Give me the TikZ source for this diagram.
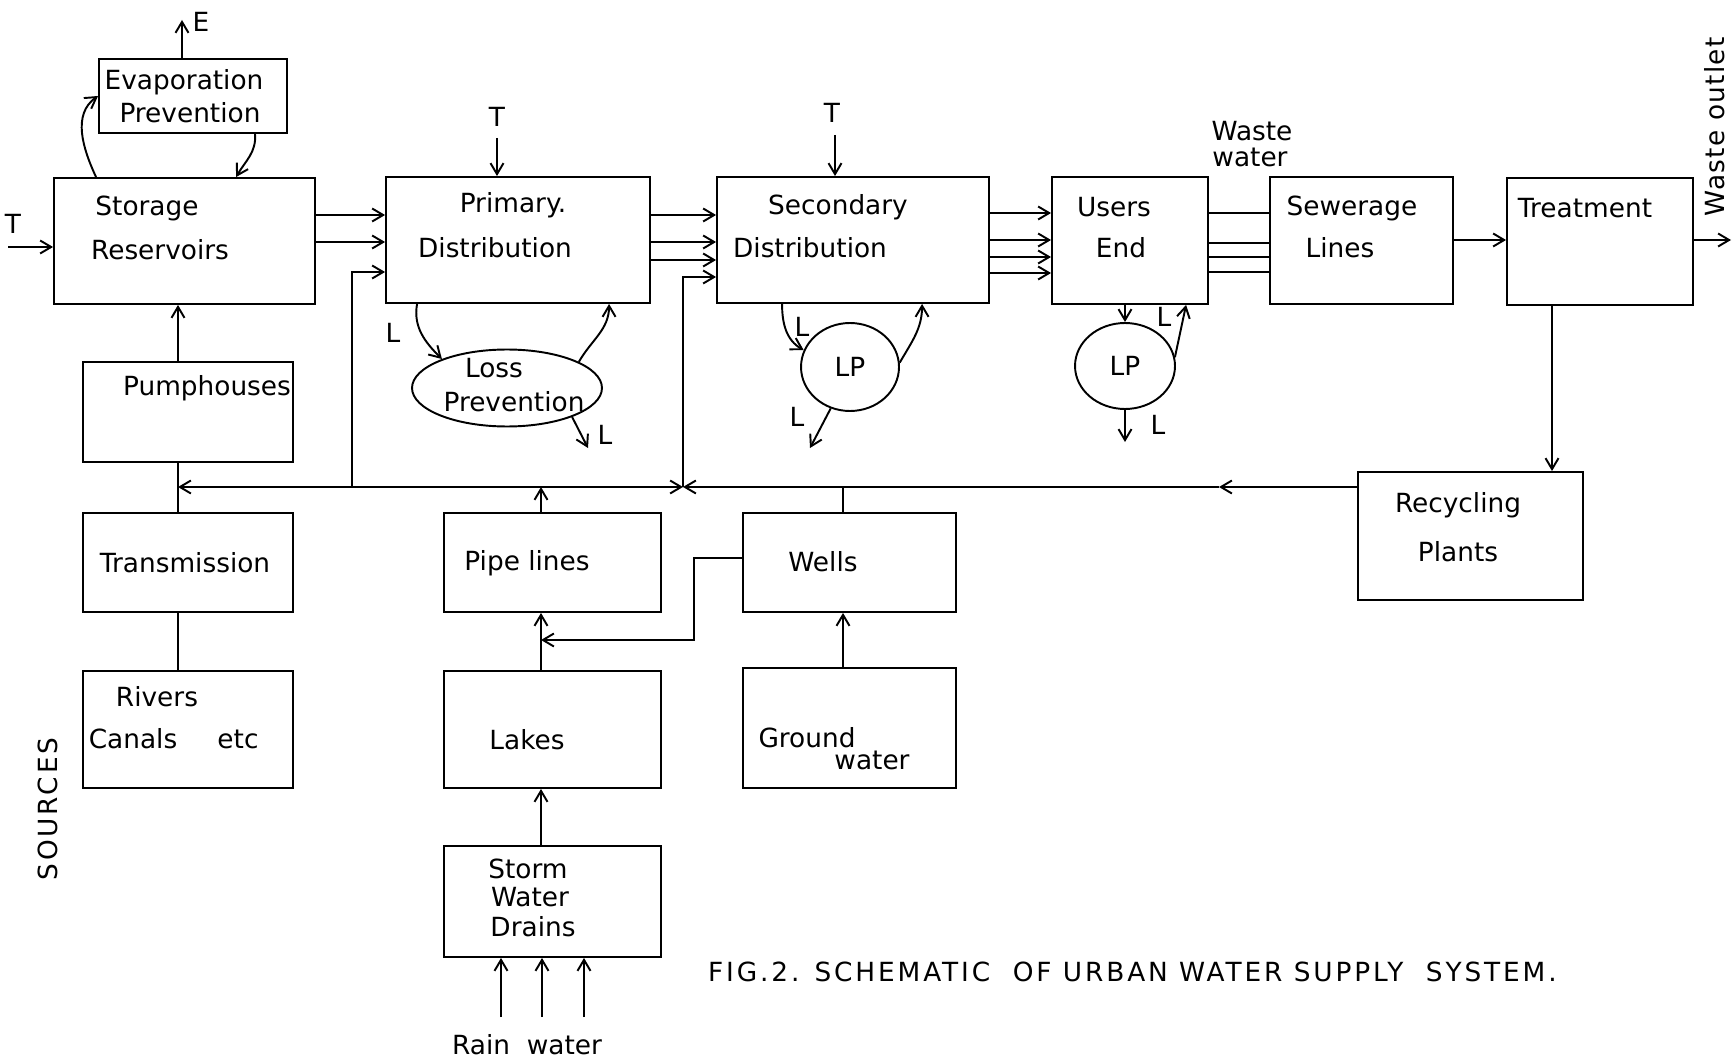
\documentclass[tikz,border=0pt]{standalone}
\usepackage{fontspec}
\setmainfont{DejaVu Sans}
\usetikzlibrary{positioning,calc,arrows.meta,shapes.geometric}

\begin{document}
\begin{tikzpicture}[x=0.02cm,y=-0.02cm,font=\fontsize{15}{18}\selectfont]
\tikzset{
  blk/.style={draw, line width=1.1pt, inner sep=0pt},
  oval/.style={ellipse, draw, line width=1.1pt, inner sep=0pt},
  ln/.style={line width=1.1pt},
  arr/.style={line width=1.1pt, -{Straight Barb[length=2.2mm,width=2.6mm]}},
  lbl/.style={inner sep=1pt},
  spaced/.style={font=\fontsize{15}{18}\selectfont\addfontfeatures{LetterSpace=#1}}
}
\useasboundingbox (0,0) rectangle (1733,1060);

% boxes of the main line
\node[blk, minimum width=3.76cm, minimum height=1.48cm] (evap) at (193,96) {};
\node[blk, minimum width=5.22cm, minimum height=2.52cm] (stor) at (184.5,241) {};
\node[blk, minimum width=5.28cm, minimum height=2.52cm] (prim) at (518,240) {};
\node[blk, minimum width=5.44cm, minimum height=2.52cm] (sec) at (853,240) {};
\node[blk, minimum width=3.12cm, minimum height=2.54cm] (user) at (1130,240.5) {};
\node[blk, minimum width=3.66cm, minimum height=2.54cm] (sew) at (1361.5,240.5) {};
\node[blk, minimum width=3.72cm, minimum height=2.54cm] (treat) at (1600,241.5) {};
% sources
\node[blk, minimum width=4.2cm, minimum height=2.0cm] (pump) at (188,412) {};
\node[blk, minimum width=4.2cm, minimum height=1.98cm] (trans) at (188,562.5) {};
\node[blk, minimum width=4.2cm, minimum height=2.34cm] (rivers) at (188,729.5) {};
\node[blk, minimum width=4.34cm, minimum height=1.98cm] (pipe) at (552.5,562.5) {};
\node[blk, minimum width=4.34cm, minimum height=2.34cm] (lakes) at (552.5,729.5) {};
\node[blk, minimum width=4.34cm, minimum height=2.22cm] (storm) at (552.5,901.5) {};
\node[blk, minimum width=4.26cm, minimum height=1.98cm] (wells) at (849.5,562.5) {};
\node[blk, minimum width=4.26cm, minimum height=2.4cm] (ground) at (849.5,728) {};
\node[blk, minimum width=4.5cm, minimum height=2.56cm] (recyc) at (1470.5,536) {};
% loss prevention
\node[oval, minimum width=3.8cm, minimum height=1.54cm] (lossp) at (507,388) {};
\node[oval, minimum width=1.96cm, minimum height=1.76cm] (lp1) at (850,367) {LP};
\node[oval, minimum width=2.0cm, minimum height=1.72cm] (lp2) at (1125,366) {LP};

% texts in the boxes
\node[lbl] (t-evap1) at (184,82) {Evaporation};
\node[lbl] (t-evap2) at (190,113) {Prevention};
\node[lbl] (t-stor1) at (147,208) {Storage};
\node[lbl] (t-stor2) at (160,250) {Reservoirs};
\node[lbl] (t-prim1) at (513,205) {Primary.};
\node[lbl] (t-prim2) at (495,248) {Distribution};
\node[lbl] (t-sec1) at (838,207) {Secondary};
\node[lbl] (t-sec2) at (810,248) {Distribution};
\node[lbl] (t-user1) at (1114,207) {Users};
\node[lbl] (t-user2) at (1121,248) {End};
\node[lbl] (t-sew1) at (1352,208) {Sewerage};
\node[lbl] (t-sew2) at (1340,248) {Lines};
\node[lbl] (t-treat) at (1585,208) {Treatment};
\node[lbl] (t-pump) at (207,388) {Pumphouses};
\node[lbl] (t-trans) at (185,563) {Transmission};
\node[lbl] (t-riv1) at (157,697) {Rivers};
\node[lbl] (t-riv2) at (133,739) {Canals};
\node[lbl] (t-riv3) at (238,739) {etc};
\node[lbl] (t-pipe) at (527,563) {Pipe lines};
\node[lbl] (t-lakes) at (527,740) {Lakes};
\node[lbl] (t-storm1) at (528,869) {Storm};
\node[lbl] (t-storm2) at (530,897) {Water};
\node[lbl] (t-storm3) at (533,927) {Drains};
\node[lbl] (t-wells) at (823,562) {Wells};
\node[lbl] (t-gr1) at (807,738) {Ground};
\node[lbl] (t-gr2) at (872,760) {water};
\node[lbl] (t-rec1) at (1458,505) {Recycling};
\node[lbl] (t-rec2) at (1458,552) {Plants};
\node[lbl] (t-loss1) at (494,368) {Loss};
\node[lbl] (t-loss2) at (514,402) {Prevention};

% free labels
\node[lbl] (l-t0) at (13,224) {T};
\node[lbl] (l-e) at (201,22) {E};
\node[lbl] (l-t1) at (497,117) {T};
\node[lbl] (l-t2) at (832,113) {T};
\node[lbl] (l-l1) at (393,333) {L};
\node[lbl] (l-l2) at (605,435) {L};
\node[lbl] (l-l3) at (802,327) {L};
\node[lbl] (l-l4) at (797,417) {L};
\node[lbl] (l-l5) at (1164,317) {L};
\node[lbl] (l-l6) at (1158,425) {L};
\node[lbl] (l-ww1) at (1252,131) {Waste};
\node[lbl] (l-ww2) at (1250,157) {water};
\node[lbl, rotate=90, spaced=5] (l-out) at (1715,127) {Waste outlet};
\node[lbl, rotate=90, spaced=11] (l-src) at (48,809) {SOURCES};
\node[lbl] (l-rain) at (527,1045) {Rain\ \ water};
\node[lbl, anchor=west, spaced=11] (cap) at (706,972) {FIG.2. SCHEMATIC\ \ OF URBAN WATER SUPPLY\ \ SYSTEM.};

% helper points
\coordinate (lx) at (178,0);
\coordinate (px) at (541,0);
\coordinate (wx) at (843,0);
\coordinate (tx) at (1552,0);
\coordinate (busL) at (178,487);
\coordinate (busP) at (352,487);
\coordinate (busS) at (683,487);
\coordinate (busM) at (1219,487);
\coordinate (wbend) at (694,558);
\coordinate (tin) at (8,247);
\coordinate (tp) at (497,138);
\coordinate (ts) at (835,135);
\coordinate (eout) at (182,20);
\coordinate (wout) at (1731,240);
\coordinate (lossL) at (588,448);
\coordinate (lp1L) at (810,448);
\coordinate (lp2L) at (1125,442);

% main line
\draw[arr] (tin) -- (stor.west |- tin);
\draw[arr] (tp) -- (prim.north -| tp);
\draw[arr] (ts) -- (sec.north -| ts);
\draw[arr] (evap.north -| eout) -- (eout);
\foreach \y in {215,242} \draw[arr] (stor.east |- 0,\y) -- (prim.west |- 0,\y);
\foreach \y in {215,242,260} \draw[arr] (prim.east |- 0,\y) -- (sec.west |- 0,\y);
\foreach \y in {213,240,257,273} \draw[arr] (sec.east |- 0,\y) -- (user.west |- 0,\y);
\foreach \y in {213,243,257,272} \draw[ln] (user.east |- 0,\y) -- (sew.west |- 0,\y);
\draw[arr] (sew.east |- 0,240) -- (treat.west |- 0,240);
\draw[arr] (treat.east |- wout) -- (wout);
\draw[arr] (treat.south -| tx) -- (recyc.north -| tx);

% evaporation loop
\draw[arr] ($(stor.north west)+(43,0)$) to[out=115,in=215] (evap.west);
\draw[arr] ($(evap.south)+(62,0)$) to[out=-85,in=60] ($(stor.north west)+(183,0)$);

% losses
\draw[arr] ($(prim.south west)+(32,0)$) to[out=-100,in=135] (lossp.156);
\draw[arr] (lossp.20) to[out=60,in=-90] ($(prim.south west)+(224,0)$);
\draw[arr] (lossp.-24) -- (lossL);
\draw[arr] ($(sec.south west)+(66,0)$) to[out=-90,in=150] (lp1.160);
\draw[arr] (lp1.5) to[out=60,in=-90] ($(sec.south west)+(206,0)$);
\draw[arr] (lp1.245) -- (lp1L);
\draw[arr] (lp2.north |- user.south) -- (lp2.north);
\draw[arr] (lp2.10) -- ($(user.south west)+(135,0)$);
\draw[arr] (lp2.south) -- (lp2L);

% sources and return bus
\draw[arr] (pump.north -| lx) -- (stor.south -| lx);
\draw[ln] (trans.north -| lx) -- (pump.south -| lx);
\draw[ln] (rivers.north -| lx) -- (trans.south -| lx);
\draw[arr] (pipe.north -| px) -- (px |- busL);
\draw[arr] (px |- busL) -- (busL);
\draw[arr] (px |- busL) -- (busS);
\draw[arr] (recyc.west |- busL) -- (busM);
\draw[arr] (busM) -- (busS);
\draw[arr] (busP) |- (prim.west |- 0,272);
\draw[arr] (busS) |- (sec.west |- 0,277);
\draw[ln] (wells.north -| wx) -- (wx |- busL);
\draw[arr] (lakes.north -| px) -- (pipe.south -| px);
\draw[arr] (wells.west |- wbend) -- (wbend) |- (px |- 0,640);
\draw[arr] (ground.north -| wx) -- (wells.south -| wx);
\draw[arr] (storm.north -| px) -- (lakes.south -| px);
\foreach \x [count=\i] in {501,542,584} {
  \coordinate (rain\i) at (\x,1017);
  \draw[arr] (rain\i) -- (storm.south -| rain\i);
}
\end{tikzpicture}
\end{document}
